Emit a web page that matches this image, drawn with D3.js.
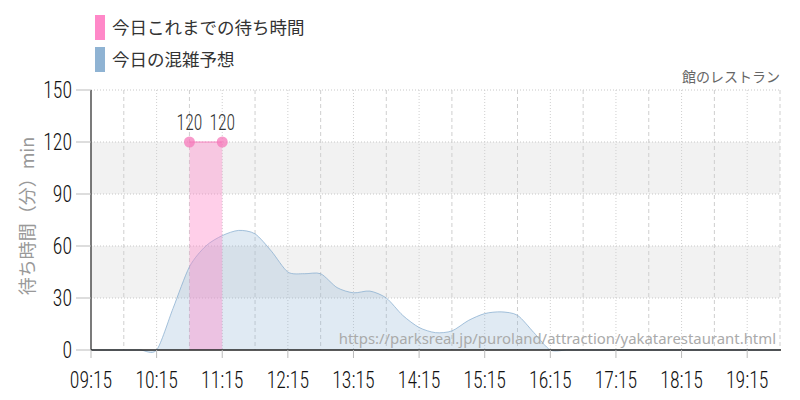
<!DOCTYPE html>
<html><head><meta charset="utf-8">
<script src="https://cdn.jsdelivr.net/npm/d3@7"></script>
<style>
body{margin:0;background:#fff;}
svg{display:block;}
.num{font-family:"Roboto Condensed","Roboto",sans-serif;font-weight:300;}
.jp{font-family:"Noto Sans CJK JP","Noto Sans",sans-serif;}
</style></head><body>
<svg id="c" width="800" height="400"></svg>
<script>
// ---- data ----
const title = "館のレストラン";
const legendLabels = ["今日これまでの待ち時間", "今日の混雑予想"];
const yAxisTitle = "待ち時間（分）min";
const watermark = "https://parksreal.jp/puroland/attraction/yakatarestaurant.html";
const xTickLabels = ["09:15","10:15","11:15","12:15","13:15","14:15","15:15","16:15","17:15","18:15","19:15"];
const yTickValues = [0,30,60,90,120,150];
const actualTimes = ["10:45","11:15"];
const actualValues = [120,120];
const forecastTimes = ["09:15","09:30","09:45","10:00","10:15","10:30","10:45","11:00","11:15","11:30","11:45","12:00","12:15","12:30","12:45","13:00","13:15","13:30","13:45","14:00","14:15","14:30","14:45","15:00","15:15","15:30","15:45","16:00","16:15","16:30","16:45","17:00","17:15","17:30","17:45","18:00","18:15","18:30","18:45","19:00","19:15","19:30","19:45"];
const forecastValues = [0,0,0,0,0,24,48,60,66,69,67,57,45,44,44,36,33,34,30,20,13,10,11,17,21,22,20,10,0,0,0,0,0,0,0,0,0,0,0,0,0,0,0];
const xStart = "09:15", xEnd = "19:45";

// ---- helpers ----
const toMin = s => { const [h,m] = s.split(":").map(Number); return h*60+m; };
const svg = d3.select("#c");
const L = 91, R = 780, T = 90, B = 350;
const x = d3.scaleLinear().domain([toMin(xStart), toMin(xEnd)]).range([L, R]);
const y = d3.scaleLinear().domain([0,150]).range([B, T]);

// bands
const bands = [[30,60],[90,120]];
svg.selectAll("rect.band").data(bands).enter().append("rect")
  .attr("x", L).attr("width", R-L)
  .attr("y", d => y(d[1])).attr("height", d => y(d[0]) - y(d[1]))
  .attr("fill", "#f2f2f2");

// horizontal grid
svg.selectAll("line.hg").data(yTickValues.filter(v=>v>0)).enter().append("line")
  .attr("x1", L).attr("x2", R).attr("y1", d=>y(d)).attr("y2", d=>y(d))
  .attr("stroke", "#c8c8c8").attr("stroke-dasharray", "1,2");

// vertical grid every 30 min
const vg = d3.range(toMin(xStart)+30, toMin(xEnd)+1, 30);
svg.selectAll("line.vg").data(vg).enter().append("line")
  .attr("x1", d=>x(d)).attr("x2", d=>x(d)).attr("y1", T).attr("y2", B)
  .attr("stroke", "#cfcfcf")
  .attr("stroke-dasharray", d => ((d - toMin(xStart)) % 60 === 0) ? "1,2" : "4,3");

// forecast area
const fdata = forecastTimes.map((t,i)=>({m:toMin(t), v:forecastValues[i]}));
const curve = d3.curveCardinal.tension(0.2);
svg.append("path").datum(fdata)
  .attr("d", d3.area().x(d=>x(d.m)).y0(y(0)).y1(d=>y(d.v)).curve(curve))
  .attr("fill", "rgba(143,179,211,0.28)");
svg.append("path").datum(fdata)
  .attr("d", d3.line().x(d=>x(d.m)).y(d=>y(d.v)).curve(curve))
  .attr("fill", "none").attr("stroke", "rgba(130,170,205,0.7)").attr("stroke-width", 1);

// actual area
const adata = actualTimes.map((t,i)=>({m:toMin(t), v:actualValues[i]}));
svg.append("path").datum(adata)
  .attr("d", d3.area().x(d=>x(d.m)).y0(y(0)).y1(d=>y(d.v)))
  .attr("fill", "rgba(255,136,200,0.4)");
svg.append("path").datum(adata)
  .attr("d", d3.line().x(d=>x(d.m)).y(d=>y(d.v)))
  .attr("fill", "none").attr("stroke", "rgba(245,120,185,0.6)").attr("stroke-width", 1.5);
svg.selectAll("circle.pt").data(adata).enter().append("circle")
  .attr("cx", d=>x(d.m)).attr("cy", d=>y(d.v)).attr("r", 5.5)
  .attr("fill", "rgba(245,120,185,0.75)");
svg.selectAll("text.pl").data(adata).enter().append("g")
  .attr("transform", d=>`translate(${x(d.m)},${y(d.v)-12})`)
  .append("text").attr("class","num").attr("text-anchor","middle")
  .attr("transform","scale(0.8,1)")
  .attr("font-size", 22).attr("fill", "#333").text(d=>d.v);

// watermark
svg.append("text").attr("x", 776).attr("y", 344)
  .attr("text-anchor","end").attr("font-size", 14.9).attr("fill","#aaa")
  .attr("font-family","'Noto Sans','Open Sans',sans-serif")
  .text(watermark);

// axes lines
svg.append("line").attr("x1", L).attr("x2", L).attr("y1", T).attr("y2", B).attr("stroke","#222").attr("stroke-width",1.2);
svg.append("line").attr("x1", L).attr("x2", R+1).attr("y1", B).attr("y2", B).attr("stroke","#222").attr("stroke-width",1.5);

// y ticks
const yt = svg.selectAll("g.yt").data(yTickValues).enter().append("g")
  .attr("transform", d=>`translate(${L},${y(d)})`);
yt.append("line").attr("x1",-15).attr("x2",0).attr("stroke","#bbb");
yt.append("text").attr("class","num").attr("text-anchor","end")
  .attr("transform","translate(-19,8) scale(0.86,1)")
  .attr("font-size",23).attr("fill","#111").text(d=>d);

// x ticks
const xt = svg.selectAll("g.xt").data(xTickLabels).enter().append("g")
  .attr("transform", d=>`translate(${x(toMin(d))},${B})`);
xt.append("line").attr("y1",0).attr("y2",8).attr("stroke","#bbb");
xt.append("text").attr("class","num").attr("text-anchor","middle")
  .attr("transform","translate(0,38) scale(0.86,1)")
  .attr("font-size",23).attr("fill","#111").text(d=>d);

// y axis title
svg.append("text").attr("class","jp")
  .attr("transform","translate(34,216) rotate(-90)")
  .attr("text-anchor","middle").attr("font-size",18).attr("fill","#999")
  .text(yAxisTitle);

// chart title
svg.append("text").attr("class","jp").attr("x",780).attr("y",82)
  .attr("text-anchor","end").attr("font-size",14).attr("fill","#666").text(title);

// legend
const legColors = ["#ff88c8","#8fb3d3"];
const lg = svg.selectAll("g.lg").data(legendLabels).enter().append("g")
  .attr("transform",(d,i)=>`translate(95,${15+i*32})`);
lg.append("rect").attr("width",10).attr("height",25).attr("fill",(d,i)=>legColors[i]);
lg.append("text").attr("class","jp").attr("x",17).attr("y",19)
  .attr("font-size",17.5).attr("fill","#333").text(d=>d);
</script>
</body></html>
